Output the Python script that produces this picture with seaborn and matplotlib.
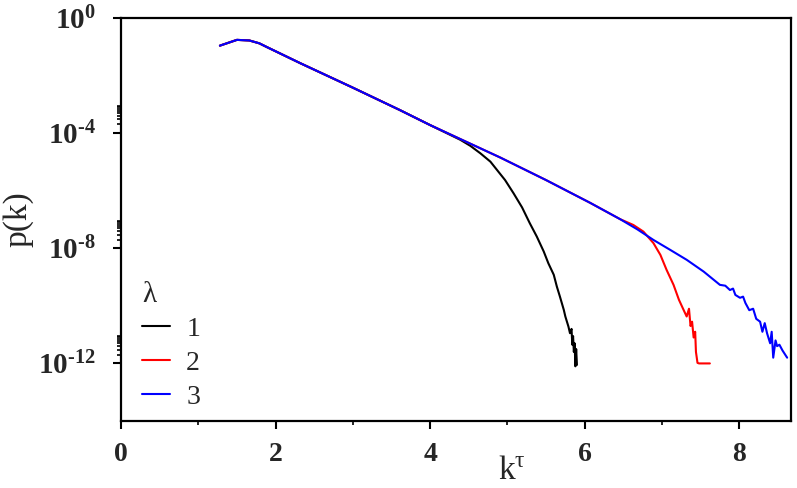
import numpy as np
import pandas as pd
import matplotlib
matplotlib.use('Agg')
import matplotlib.pyplot as plt
import seaborn as sns

## values (x = k^tau, y = log10 p(k))
head_k = [1.28, 1.50, 1.66, 1.79, 1.88, 2.32, 3.00, 3.61, 4.00]
head_logp = [-0.96, -0.76, -0.78, -0.88, -1.00, -1.57, -2.42, -3.20, -3.72]

k_lam1 = head_k + [4.26, 4.39, 4.52, 4.65, 4.78, 4.86, 4.97, 5.08, 5.19, 5.29,
                   5.38, 5.47, 5.53, 5.60, 5.64, 5.68, 5.73, 5.75, 5.79, 5.81,
                   5.83, 5.84, 5.85, 5.86, 5.87, 5.88, 5.89, 5.90]
logp_lam1 = head_logp + [-4.06, -4.23, -4.44, -4.70, -4.99, -5.26, -5.63, -6.09, -6.58, -7.13,
                         -7.59, -8.11, -8.52, -8.92, -9.33, -9.68, -10.14, -10.37, -10.72, -10.95,
                         -10.80, -11.35, -11.05, -11.60, -11.30, -12.10, -11.50, -12.05]

k_lam2 = head_k + [4.91, 5.50, 6.07, 6.46, 6.63, 6.76, 6.89, 6.98, 7.06, 7.15,
                   7.22, 7.28, 7.32, 7.35, 7.37, 7.39, 7.41, 7.43, 7.44, 7.46,
                   7.48, 7.62]
logp_lam2 = head_logp + [-4.85, -5.63, -6.42, -6.99, -7.19, -7.42, -7.82, -8.23, -8.75, -9.27,
                         -9.79, -10.14, -10.37, -10.10, -10.70, -10.55, -11.10, -10.90, -11.60, -11.98,
                         -12.00, -12.00]

k_lam3 = head_k + [4.91, 5.50, 6.07, 6.46, 6.68, 6.89, 7.11, 7.32, 7.54, 7.75,
                   7.82, 7.88, 7.92, 7.95, 8.01, 8.05, 8.08, 8.13, 8.18, 8.22,
                   8.27, 8.30, 8.33, 8.36, 8.40, 8.42, 8.44, 8.47, 8.49, 8.52,
                   8.56, 8.62]
logp_lam3 = head_logp + [-4.85, -5.63, -6.42, -6.99, -7.34, -7.71, -8.06, -8.40, -8.81, -9.27,
                         -9.30, -9.45, -9.40, -9.62, -9.72, -9.68, -9.90, -10.15, -10.10, -10.45,
                         -10.55, -10.90, -10.60, -10.95, -11.30, -10.90, -11.80, -11.20, -11.40, -11.35,
                         -11.55, -11.80]

lam_labels = ['1', '2', '3']
lam_colors = ['black', 'red', 'blue']

x_ticks = [0, 2, 4, 6, 8]
x_minor = [1, 3, 5, 7]
y_ticks = [1e0, 1e-4, 1e-8, 1e-12]
y_tick_labels = [r'$\mathbf{10^{0}}$', r'$\mathbf{10^{‐4}}$', r'$\mathbf{10^{‐8}}$', r'$\mathbf{10^{‐12}}$']

frames = []
for lab, kk, lp in zip(lam_labels, [k_lam1, k_lam2, k_lam3], [logp_lam1, logp_lam2, logp_lam3]):
    frames.append(pd.DataFrame({'k': kk, 'p': 10.0 ** np.array(lp), 'lam': lab}))
df = pd.concat(frames, ignore_index=True)

sns.set_style('ticks')
plt.rcParams['font.family'] = ['Liberation Serif', 'DejaVu Serif']
plt.rcParams['mathtext.fontset'] = 'custom'
plt.rcParams['mathtext.rm'] = 'Liberation Serif'
plt.rcParams['mathtext.bf'] = 'Liberation Serif:bold'
plt.rcParams['mathtext.it'] = 'Liberation Serif:italic'

fig = plt.figure(figsize=(7.97, 4.88), dpi=100)
ax = fig.add_axes([121/797, 1 - 421/488, 670/797, 403/488])

sns.lineplot(data=df, x='k', y='p', hue='lam', hue_order=lam_labels, palette=lam_colors,
             estimator=None, sort=False, linewidth=1.5, ax=ax)
ax.set_yscale('log')
ax.set_xlim(0, 8.67)
ax.set_ylim(1e-14, 1e0)

ax.set_xticks(x_ticks)
ax.set_xticklabels([str(v) for v in x_ticks], fontweight='bold', fontsize=20)
ax.set_xticks(x_minor, minor=True)
ax.set_yticks(y_ticks, y_tick_labels, fontsize=21)
y_minor = [m * t for t in [1e-4, 1e-8, 1e-12] for m in range(2, 10)]
ax.set_yticks(y_minor, minor=True)
ax.set_yticklabels([], minor=True)

ax.tick_params(axis='both', which='major', direction='out', length=6, width=1.5, color='black')
ax.tick_params(axis='both', which='minor', direction='out', length=3, width=1.2, color='black')
ax.tick_params(axis='x', which='major', pad=9)
ax.tick_params(axis='y', which='major', pad=12)
for s in ax.spines.values():
    s.set_linewidth(1.6)
    s.set_color('black')

ax.set_xlabel(r'k$^{\mathrm{τ}}$', fontsize=24)
ax.xaxis.set_label_coords(0.584, -0.085)
ax.set_ylabel('p(k)', fontsize=24)
ax.yaxis.set_label_coords(-0.13, 0.5)

leg = ax.legend(title='λ', frameon=False, loc='lower left', bbox_to_anchor=(0.002, -0.02),
                fontsize=20, title_fontsize=21, handlelength=1.0, handletextpad=0.6,
                labelspacing=0.3, borderaxespad=0.3)
leg._legend_box.align = 'left'

plt.savefig('out.png', dpi=100)
